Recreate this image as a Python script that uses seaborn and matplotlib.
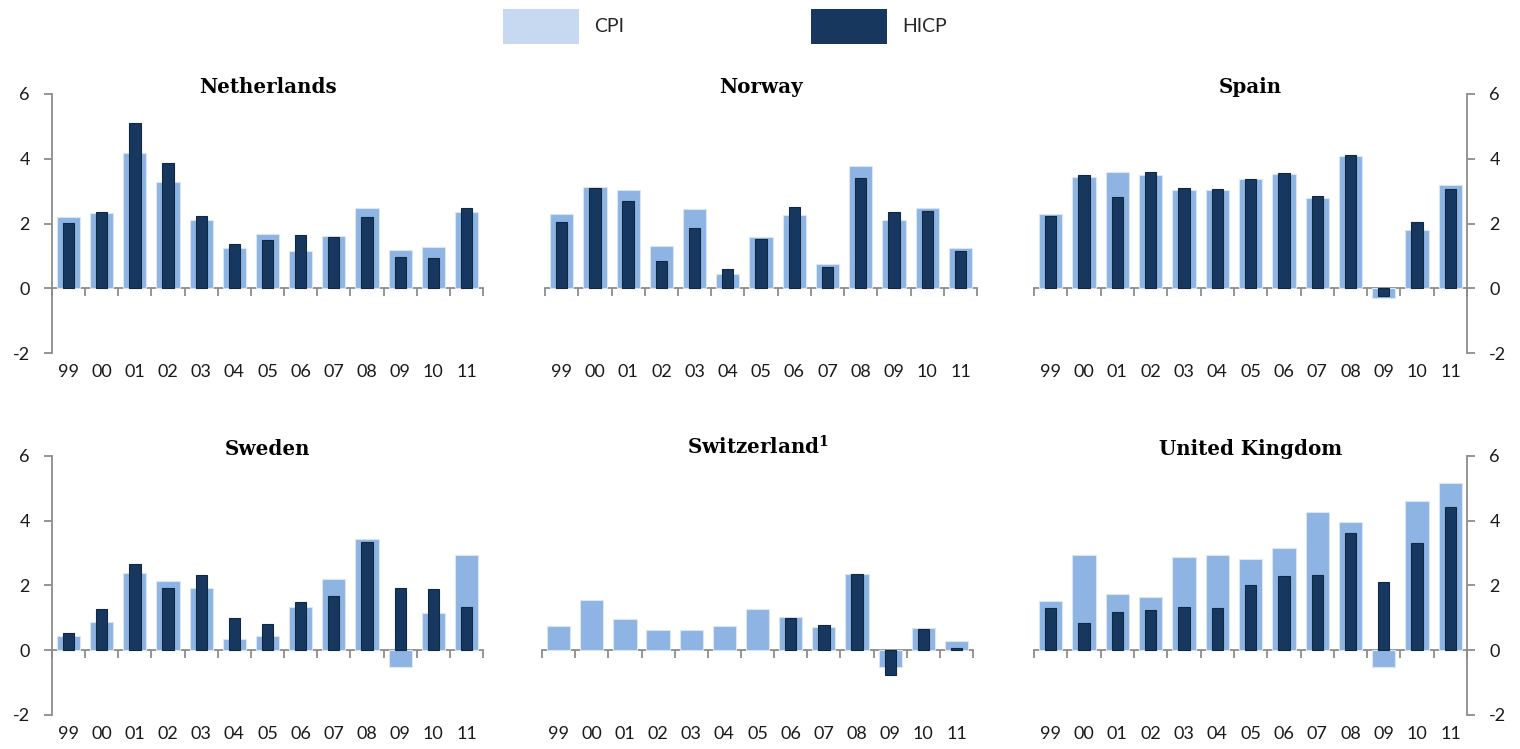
import pandas as pd
import numpy as np
import seaborn as sns
import matplotlib.pyplot as plt
from matplotlib.patches import Patch

years = ['99', '00', '01', '02', '03', '04', '05', '06', '07', '08', '09', '10', '11']

countries = ['Netherlands', 'Norway', 'Spain', 'Sweden', r'Switzerland$^{\mathbf{1}}$', 'United Kingdom']

cpi_nl = [2.19, 2.31, 4.17, 3.28, 2.12, 1.23, 1.67, 1.15, 1.60, 2.48, 1.18, 1.27, 2.35]
hicp_nl = [2.03, 2.34, 5.11, 3.87, 2.23, 1.37, 1.49, 1.65, 1.59, 2.21, 0.98, 0.93, 2.48]

cpi_no = [2.28, 3.12, 3.03, 1.29, 2.45, 0.43, 1.58, 2.25, 0.75, 3.79, 2.11, 2.47, 1.23]
hicp_no = [2.04, 3.11, 2.69, 0.83, 1.87, 0.61, 1.51, 2.50, 0.67, 3.40, 2.35, 2.38, 1.16]

cpi_es = [2.30, 3.44, 3.59, 3.50, 3.03, 3.03, 3.37, 3.52, 2.79, 4.07, -0.29, 1.79, 3.19]
hicp_es = [2.23, 3.49, 2.82, 3.60, 3.09, 3.06, 3.37, 3.55, 2.84, 4.13, -0.24, 2.04, 3.06]

cpi_se = [0.44, 0.88, 2.40, 2.15, 1.91, 0.35, 0.44, 1.35, 2.20, 3.43, -0.51, 1.14, 2.95]
hicp_se = [0.53, 1.27, 2.65, 1.92, 2.33, 1.00, 0.81, 1.48, 1.67, 3.33, 1.93, 1.90, 1.35]

cpi_ch = [0.76, 1.54, 0.98, 0.64, 0.63, 0.74, 1.26, 1.04, 0.71, 2.36, -0.51, 0.69, 0.28]
hicp_ch = [np.nan, np.nan, np.nan, np.nan, np.nan, np.nan, np.nan, 0.99, 0.77, 2.36, -0.78, 0.67, 0.08]

cpi_uk = [1.52, 2.94, 1.74, 1.66, 2.88, 2.95, 2.82, 3.16, 4.27, 3.96, -0.51, 4.62, 5.16]
hicp_uk = [1.30, 0.85, 1.17, 1.25, 1.34, 1.32, 2.02, 2.28, 2.33, 3.61, 2.10, 3.32, 4.43]

cpi_all = [cpi_nl, cpi_no, cpi_es, cpi_se, cpi_ch, cpi_uk]
hicp_all = [hicp_nl, hicp_no, hicp_es, hicp_se, hicp_ch, hicp_uk]

rows = []
for c, cp, hi in zip(countries, cpi_all, hicp_all):
    for y, a, b in zip(years, cp, hi):
        rows.append({'country': c, 'year': y, 'CPI': a, 'HICP': b})
df = pd.DataFrame(rows)

cpi_renk = '#8DB4E2'
hicp_renk = '#17375E'
gri = '#8C8C8C'

sns.set_style('white')
plt.rcParams['font.family'] = ['Lato', 'DejaVu Sans']
plt.rcParams['axes.unicode_minus'] = False
plt.rcParams['mathtext.fontset'] = 'custom'
plt.rcParams['mathtext.bf'] = 'DejaVu Serif:bold'
plt.rcParams['mathtext.rm'] = 'DejaVu Serif:bold'

fig = plt.figure(figsize=(15.2, 7.49), dpi=100)

# panel konumlari (sol, alt, genislik, yukseklik)
konumlar = [
    [0.0342, 0.5287, 0.2836, 0.3458],
    [0.3586, 0.5287, 0.2842, 0.3458],
    [0.6803, 0.5287, 0.2849, 0.3458],
    [0.0342, 0.0454, 0.2836, 0.3458],
    [0.3566, 0.0454, 0.2836, 0.3458],
    [0.6803, 0.0454, 0.2849, 0.3458],
]

for i, c in enumerate(countries):
    ax = fig.add_axes(konumlar[i])
    d = df[df['country'] == c]
    sns.barplot(data=d, x='year', y='CPI', order=years, width=0.7, color=cpi_renk,
                saturation=1, edgecolor='#DCE6F2', linewidth=0.8, errorbar=None, ax=ax)
    dh = d.dropna(subset=['HICP'])
    sns.barplot(data=dh, x='year', y='HICP', order=years, width=0.34, color=hicp_renk,
                saturation=1, edgecolor='#0F2846', linewidth=0.8, errorbar=None, ax=ax)
    ax.set_xlim(-0.5, 12.5)
    ax.set_ylim(-2, 6)
    ax.set_xlabel('')
    ax.set_ylabel('')
    ax.set_title(c, fontsize=14.3, fontweight='bold', family='DejaVu Serif', pad=1,
                 color='black')

    for s in ['top', 'bottom', 'left', 'right']:
        ax.spines[s].set_visible(False)
    ax.tick_params(axis='x', length=0, pad=8, labelsize=13, labelcolor='#1A1A1A')

    col = i % 3
    if col == 0:
        ax.spines['left'].set_visible(True)
        ax.spines['left'].set_color(gri)
        ax.spines['left'].set_linewidth(1.3)
        ax.set_yticks([-2, 0, 2, 4, 6])
        ax.tick_params(axis='y', left=True, length=6, width=1.3, color=gri,
                       labelsize=13, labelcolor='#1A1A1A', pad=10)
    elif col == 2:
        ax.spines['right'].set_visible(True)
        ax.spines['right'].set_color(gri)
        ax.spines['right'].set_linewidth(1.3)
        ax.yaxis.tick_right()
        ax.set_yticks([-2, 0, 2, 4, 6])
        ax.tick_params(axis='y', right=True, left=False, length=6, width=1.3, color=gri,
                       labelsize=13, labelcolor='#1A1A1A', pad=10)
    else:
        ax.set_yticks([])

    # sifir cizgisi ve kategori sinir isaretleri
    sifir = ax.secondary_xaxis(0.25)
    sifir.set_xticks(np.arange(-0.5, 13, 1))
    sifir.set_xticklabels([])
    sifir.tick_params(length=6, width=1.3, color=gri)
    sifir.spines['bottom'].set_color(gri)
    sifir.spines['bottom'].set_linewidth(1.3)

handles = [Patch(facecolor='#C6D9F1', edgecolor='none', label='CPI'),
           Patch(facecolor=hicp_renk, edgecolor='none', label='HICP')]
fig.legend(handles=handles, loc='upper center', bbox_to_anchor=(0.477, 1.012), ncol=2,
           frameon=False, fontsize=14, handlelength=3.9, handleheight=2.4,
           handletextpad=0.8, columnspacing=9.6)

plt.savefig('out.png', dpi=100)
